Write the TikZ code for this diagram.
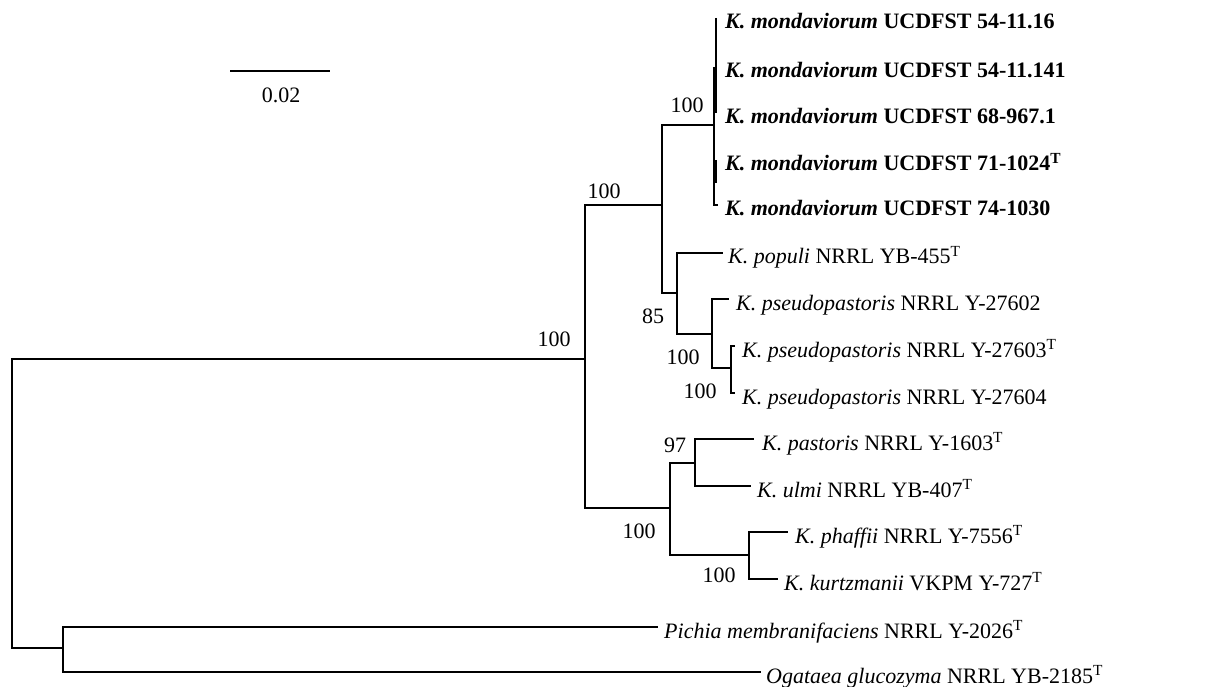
\documentclass[tikz,border=0pt]{standalone}
\usepackage{fontspec}
\setmainfont{Liberation Serif}
\begin{document}
\begin{tikzpicture}[x=1pt,y=-1pt,
  br/.style={line width=1.4pt,line cap=rect},
  leaf/.style={anchor=base west,inner sep=0pt,font=\fontsize{22}{26}\selectfont},
  sup/.style={inner sep=0pt,font=\fontsize{22}{26}\selectfont}]
\useasboundingbox (0,0) rectangle (1213,687);
% internal nodes
\coordinate (R) at (12,503);
\coordinate (PO) at (63,648);
\coordinate (N1) at (585,359);
\coordinate (N2) at (662,205);
\coordinate (M) at (714,125);
\coordinate (N3) at (677,293);
\coordinate (N4) at (712,334);
\coordinate (N4b) at (731,368);
\coordinate (N5) at (670,508);
\coordinate (N6) at (695,463);
\coordinate (N7) at (749,555);
% leaf ends
\coordinate (lpop) at (722,253);
\coordinate (l602) at (728,299);
\coordinate (l603) at (734,346);
\coordinate (l604) at (734,393);
\coordinate (lpas) at (753,439);
\coordinate (lulm) at (750,486);
\coordinate (lpha) at (787,532);
\coordinate (lkur) at (777,579);
\coordinate (lpic) at (657,627);
\coordinate (loga) at (760,672);
% branches
\draw[br] (R) |- (N1);
\draw[br] (R) |- (PO);
\draw[br] (PO) |- (lpic);
\draw[br] (PO) |- (loga);
\draw[br] (N1) |- (N2);
\draw[br] (N1) |- (N5);
\draw[br] (N2) |- (M);
\draw[br] (N2) |- (N3);
\draw[br] (N3) |- (lpop);
\draw[br] (N3) |- (N4);
\draw[br] (N4) |- (l602);
\draw[br] (N4) |- (N4b);
\draw[br] (N4b) |- (l603);
\draw[br] (N4b) |- (l604);
\draw[br] (N5) |- (N6);
\draw[br] (N5) |- (N7);
\draw[br] (N6) |- (lpas);
\draw[br] (N6) |- (lulm);
\draw[br] (N7) |- (lpha);
\draw[br] (N7) |- (lkur);
% mondaviorum comb
\coordinate (Ma) at (714,67);
\coordinate (Mb) at (718,205);
\coordinate (Mc) at (716,18);
\coordinate (Md) at (716,113);
\coordinate (Me) at (716,160);
\coordinate (Mf) at (716,183);
\draw[br,line cap=butt] (Ma) |- (Mb);
\draw[br,line cap=butt] (Mc) -- (Md);
\draw[br,line cap=butt] (Me) -- (Mf);
% leaf labels
\node[leaf] (m1) at (725,29) {\textbf{\textit{K. mondaviorum}} \textbf{UCDFST 54-11.16}};
\node[leaf] (m2) at (725,78) {\textbf{\textit{K. mondaviorum}} \textbf{UCDFST 54-11.141}};
\node[leaf] (m3) at (725,124) {\textbf{\textit{K. mondaviorum}} \textbf{UCDFST 68-967.1}};
\node[leaf] (m4) at (725,171) {\textbf{\textit{K. mondaviorum}} \textbf{UCDFST 71-1024\textsuperscript{T}}};
\node[leaf] (m5) at (725,216) {\textbf{\textit{K. mondaviorum}} \textbf{UCDFST 74-1030}};
\node[leaf] (tpop) at (728,264) {\textit{K. populi} NRRL YB-455\textsuperscript{T}};
\node[leaf] (t602) at (736,310) {\textit{K. pseudopastoris} NRRL Y-27602};
\node[leaf] (t603) at (742,357) {\textit{K. pseudopastoris} NRRL Y-27603\textsuperscript{T}};
\node[leaf] (t604) at (742,404) {\textit{K. pseudopastoris} NRRL Y-27604};
\node[leaf] (tpas) at (762,450) {\textit{K. pastoris} NRRL Y-1603\textsuperscript{T}};
\node[leaf] (tulm) at (757,497) {\textit{K. ulmi} NRRL YB-407\textsuperscript{T}};
\node[leaf] (tpha) at (795,543) {\textit{K. phaffii} NRRL Y-7556\textsuperscript{T}};
\node[leaf] (tkur) at (784,590) {\textit{K. kurtzmanii} VKPM Y-727\textsuperscript{T}};
\node[leaf] (tpic) at (664,638) {\textit{Pichia membranifaciens} NRRL Y-2026\textsuperscript{T}};
\node[leaf] (toga) at (766,683) {\textit{Ogataea glucozyma} NRRL YB-2185\textsuperscript{T}};
% support values
\node[sup] (s1) at (554,339) {100};
\node[sup] (s2) at (604,191) {100};
\node[sup] (s3) at (687,105) {100};
\node[sup] (s4) at (653,316) {85};
\node[sup] (s5) at (683,357) {100};
\node[sup] (s6) at (700,391) {100};
\node[sup] (s7) at (675,445) {97};
\node[sup] (s8) at (639,531) {100};
\node[sup] (s9) at (719,575) {100};
% scale bar
\coordinate (sbl) at (230,71);
\coordinate (sbr) at (330,71);
\draw[br,line cap=butt] (sbl) -- (sbr);
\node[sup] (sbt) at (281,95) {0.02};
\end{tikzpicture}
\end{document}
